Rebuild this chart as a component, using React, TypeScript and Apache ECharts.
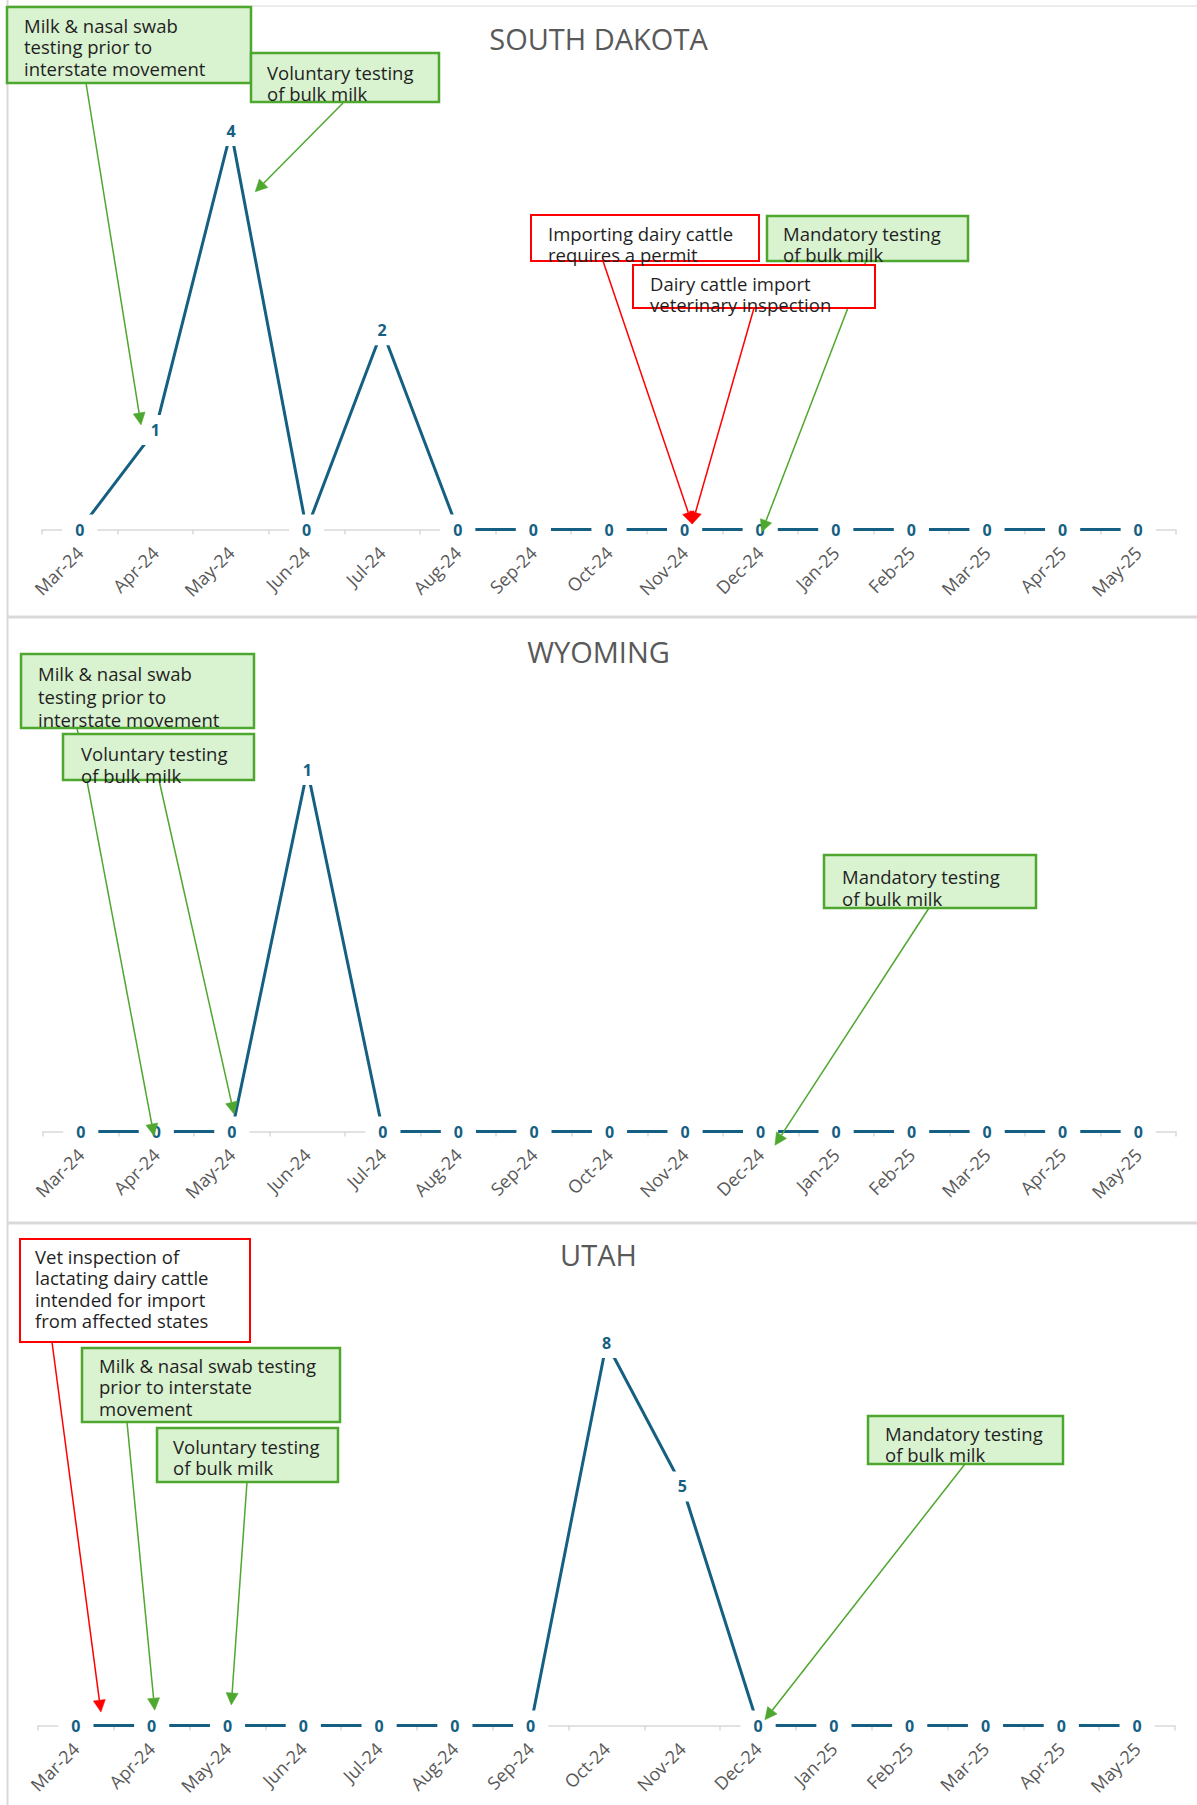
import React, { useEffect, useRef } from "react";
import * as echarts from "echarts";

// ---------- data ----------
const months = [
  "Mar-24", "Apr-24", "May-24", "Jun-24", "Jul-24", "Aug-24", "Sep-24", "Oct-24",
  "Nov-24", "Dec-24", "Jan-25", "Feb-25", "Mar-25", "Apr-25", "May-25",
];
const southDakota = [0, 1, 4, 0, 2, 0, 0, 0, 0, 0, 0, 0, 0, 0, 0];
const wyoming = [0, 0, 0, 1, 0, 0, 0, 0, 0, 0, 0, 0, 0, 0, 0];
const utah = [0, 0, 0, 0, 0, 0, 0, 8, 5, 0, 0, 0, 0, 0, 0];
const stateNames = ["SOUTH DAKOTA", "WYOMING", "UTAH"];
const stateSeries = [southDakota, wyoming, utah];

// ---------- annotation layout (pixels for boxes; tips anchored in data space) ----------
type Note = {
  panel: number;
  kind: "green" | "red";
  text: string;
  box: [number, number, number, number]; // x, y, w, h
  textAt: [number, number]; // x, first line centre y
  lh: number;
  from: [number, number];
  tip: [number, number]; // fractional category index, value
};

const notes: Note[] = [
  { panel: 0, kind: "green", text: "Milk & nasal swab\ntesting prior to\ninterstate movement", box: [7, 7, 244, 76], textAt: [24, 25], lh: 21.5, from: [86, 83], tip: [0.81, 1.05] },
  { panel: 0, kind: "green", text: "Voluntary testing\nof bulk milk", box: [251, 53, 188, 49], textAt: [267, 72], lh: 21.5, from: [343, 103], tip: [2.32, 3.39] },
  { panel: 0, kind: "red", text: "Importing dairy cattle\nrequires a permit", box: [531, 215, 228, 46], textAt: [548, 233], lh: 21.5, from: [603, 261], tip: [8.1, 0.055] },
  { panel: 0, kind: "green", text: "Mandatory testing\nof bulk milk", box: [767, 216, 201, 45], textAt: [783, 233], lh: 21.5, from: [866, 261], tip: [9.02, -0.025] },
  { panel: 0, kind: "red", text: "Dairy cattle import\nveterinary inspection", box: [633, 265, 242, 43], textAt: [650, 283], lh: 21.5, from: [754, 308], tip: [8.1, 0.055] },
  { panel: 1, kind: "green", text: "Milk & nasal swab\ntesting prior to\ninterstate movement", box: [21, 654, 233, 74], textAt: [38, 673], lh: 23, from: [77, 728], tip: [0.97, -0.012] },
  { panel: 1, kind: "green", text: "Voluntary testing\nof bulk milk", box: [63, 734, 191, 46], textAt: [81, 753], lh: 22, from: [159, 780], tip: [2.03, 0.048] },
  { panel: 1, kind: "green", text: "Mandatory testing\nof bulk milk", box: [824, 855, 212, 53], textAt: [842, 876], lh: 22, from: [929, 908], tip: [9.19, -0.038] },
  { panel: 2, kind: "red", text: "Vet inspection of\nlactating dairy cattle\nintended for import\nfrom affected states", box: [20, 1239, 230, 103], textAt: [35, 1256], lh: 21.5, from: [52, 1342], tip: [0.33, 0.28] },
  { panel: 2, kind: "green", text: "Milk & nasal swab testing\nprior to interstate\nmovement", box: [82, 1348, 258, 74], textAt: [99, 1365], lh: 21.5, from: [127, 1422], tip: [1.04, 0.32] },
  { panel: 2, kind: "green", text: "Voluntary testing\nof bulk milk", box: [157, 1428, 181, 54], textAt: [173, 1446], lh: 21.5, from: [247, 1482], tip: [2.05, 0.43] },
  { panel: 2, kind: "green", text: "Mandatory testing\nof bulk milk", box: [868, 1416, 195, 48], textAt: [885, 1433], lh: 21.5, from: [965, 1464], tip: [9.09, 0.12] },
];

// ---------- styles ----------
const LINE_BLUE = "#156082";
const GREEN = "#4ea72e";
const GREEN_FILL = "#d9f2d0";
const RED = "#ff0000";
const GRAY_TEXT = "#595959";
const FRAME = "#d9d9d9";
const FONT = "Open Sans";

const grids = [
  { left: 42, top: 131, width: 1134, height: 398.5 },
  { left: 43, top: 770, width: 1133, height: 361.5 },
  { left: 38, top: 1343, width: 1137, height: 382.5 },
];
const yMax = [4, 1, 8];
const titleTops = [19, 632, 1235];

function buildBaseOption(): any {
  return {
    animation: false,
    backgroundColor: "#ffffff",
    title: stateNames.map((t, i) => ({
      text: t,
      left: "center",
      top: titleTops[i],
      padding: [5, 0, 5, 9],
      textStyle: { fontSize: 29, fontWeight: "normal", color: GRAY_TEXT, fontFamily: FONT },
    })),
    grid: grids.map((g) => ({ ...g, containLabel: false, outerBoundsMode: "none" })),
    xAxis: grids.map((_, i) => ({
      type: "category",
      gridIndex: i,
      data: months,
      boundaryGap: true,
      axisLine: { show: true, lineStyle: { color: FRAME, width: 1.5 } },
      axisTick: { show: true, length: 5, lineStyle: { color: FRAME, width: 1.5 } },
      axisLabel: {
        interval: 0,
        rotate: 45,
        margin: 20,
        fontSize: 18,
        color: GRAY_TEXT,
        fontFamily: FONT,
      },
      splitLine: { show: false },
    })),
    yAxis: grids.map((_, i) => ({
      type: "value",
      gridIndex: i,
      min: 0,
      max: yMax[i],
      show: false,
      splitLine: { show: false },
    })),
    series: stateSeries.map((vals, i) => ({
      type: "line",
      name: stateNames[i],
      xAxisIndex: i,
      yAxisIndex: i,
      data: vals,
      symbol: "circle",
      symbolSize: 1,
      showSymbol: true,
      showAllSymbol: true,
      clip: false,
      lineStyle: { color: LINE_BLUE, width: 3 },
      itemStyle: { color: LINE_BLUE },
      emphasis: { disabled: true },
      label: {
        show: true,
        position: "inside",
        color: LINE_BLUE,
        fontWeight: "bold",
        fontSize: 16,
        fontFamily: FONT,
        backgroundColor: "#ffffff",
        padding: [7, 13],
      },
    })),
  };
}

function arrowElements(from: number[], tip: number[], color: string): any[] {
  const dx = tip[0] - from[0];
  const dy = tip[1] - from[1];
  const len = Math.sqrt(dx * dx + dy * dy) || 1;
  const ux = dx / len;
  const uy = dy / len;
  const L = 12;
  const W = 6;
  const bx = tip[0] - ux * L;
  const by = tip[1] - uy * L;
  const nx = -uy;
  const ny = ux;
  return [
    {
      type: "line",
      z: 100,
      silent: true,
      shape: { x1: from[0], y1: from[1], x2: bx, y2: by },
      style: { stroke: color, lineWidth: 1.5 },
    },
    {
      type: "polygon",
      z: 100,
      silent: true,
      shape: {
        points: [
          [tip[0], tip[1]],
          [bx + nx * W, by + ny * W],
          [bx - nx * W, by - ny * W],
        ],
      },
      style: { fill: color, stroke: color, lineWidth: 0.5 },
    },
  ];
}

function boxElements(n: Note): any[] {
  const isGreen = n.kind === "green";
  return [
    {
      type: "rect",
      z: 101,
      silent: true,
      shape: { x: n.box[0], y: n.box[1], width: n.box[2], height: n.box[3] },
      style: {
        fill: isGreen ? GREEN_FILL : "#ffffff",
        stroke: isGreen ? GREEN : RED,
        lineWidth: isGreen ? 2.5 : 2,
      },
    },
    {
      type: "text",
      z: 102,
      silent: true,
      x: n.textAt[0],
      y: n.textAt[1] - n.lh / 2,
      style: {
        text: n.text,
        fontSize: 18.5,
        fontFamily: FONT,
        fill: "#1f1f1f",
        lineHeight: n.lh,
        verticalAlign: "top",
        align: "left",
      },
    },
  ];
}

const frameLines: any[] = [
  { type: "line", z: 50, silent: true, shape: { x1: 7.5, y1: 0, x2: 7.5, y2: 1805 }, style: { stroke: FRAME, lineWidth: 2 } },
  { type: "line", z: 50, silent: true, shape: { x1: 7, y1: 6, x2: 1197, y2: 6 }, style: { stroke: "#e6e6e6", lineWidth: 1.5 } },
  { type: "line", z: 50, silent: true, shape: { x1: 7, y1: 617, x2: 1197, y2: 617 }, style: { stroke: FRAME, lineWidth: 3 } },
  { type: "line", z: 50, silent: true, shape: { x1: 7, y1: 1223, x2: 1197, y2: 1223 }, style: { stroke: FRAME, lineWidth: 3 } },
];

export default function App() {
  const ref = useRef<HTMLDivElement>(null);
  useEffect(() => {
    if (!ref.current) return;
    const chart = echarts.init(ref.current, null, { renderer: "svg" });
    chart.setOption(buildBaseOption());

    const arrows: any[] = [];
    const boxes: any[] = [];
    notes.forEach((n) => {
      const i0 = Math.floor(n.tip[0]);
      const f = n.tip[0] - i0;
      const p0 = chart.convertToPixel({ gridIndex: n.panel }, [i0, n.tip[1]]) as number[];
      const p1 = chart.convertToPixel({ gridIndex: n.panel }, [i0 + 1, n.tip[1]]) as number[];
      const tip = [p0[0] + f * (p1[0] - p0[0]), p0[1]];
      arrows.push(...arrowElements(n.from, tip, n.kind === "green" ? GREEN : RED));
      boxes.push(...boxElements(n));
    });
    chart.setOption({ graphic: { elements: [...frameLines, ...arrows, ...boxes] } });

    return () => chart.dispose();
  }, []);

  return (
    <div
      ref={ref}
      style={{ position: "absolute", left: 0, top: 0, width: 1197, height: 1805, background: "#fff" }}
    />
  );
}
